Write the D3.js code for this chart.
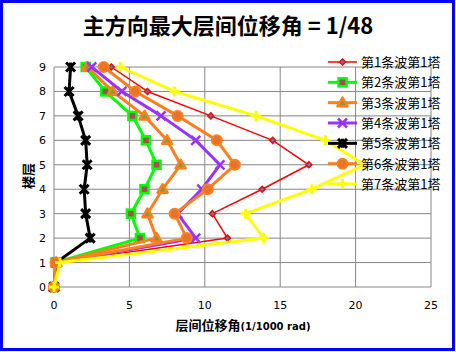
<!DOCTYPE html>
<html>
<head>
<meta charset="utf-8">
<script src="https://cdn.jsdelivr.net/npm/d3@7"></script>
<style>
  body { margin: 0; background: #fff; }
  text { font-family: "DejaVu Sans", Verdana, sans-serif; }
  .cjk { font-family: "Noto Sans CJK SC", sans-serif; }
</style>
</head>
<body>
<div id="chart"></div>
<script>
// Data
const floors = [0, 1, 2, 3, 4, 5, 6, 7, 8, 9];
const seriesNames = ["第1条波第1塔", "第2条波第1塔", "第3条波第1塔", "第4条波第1塔",
                     "第5条波第1塔", "第6条波第1塔", "第7条波第1塔"];
const wave1 = [0, 0.2, 11.5, 10.5, 13.8, 16.9, 14.5, 10.4, 6.2, 3.8];
const wave2 = [0, 0.1, 5.7, 5.1, 6.0, 6.8, 6.1, 5.2, 3.4, 2.1];
const wave3 = [0, 0.15, 6.8, 6.2, 7.2, 8.4, 7.5, 6.0, 3.9, 2.2];
const wave4 = [0, 0.2, 9.4, 8.2, 9.8, 11.0, 9.4, 7.1, 4.5, 2.5];
const wave5 = [0, 0.15, 2.4, 2.1, 2.0, 2.2, 2.1, 1.6, 1.0, 1.1];
const wave6 = [0, 0.1, 8.8, 8.0, 10.2, 12.0, 10.8, 8.2, 5.4, 3.3];
const wave7 = [0, 0.4, 13.9, 12.7, 17.1, 20.6, 18.0, 13.4, 8.0, 4.4];
const xTicks = [0, 5, 10, 15, 20, 25];

const styles = [
  {color: "#ff0000", width: 1.5, marker: "diamond", fill: "#4f81bd", size: 3},
  {color: "#00ff00", width: 3, marker: "square", fill: "#a5504f", size: 4},
  {color: "#ff7f1e", width: 3, marker: "triangle", fill: "#8a9a3a", size: 5},
  {color: "#9933ff", width: 3, marker: "x", fill: "none", size: 4.5},
  {color: "#000000", width: 3, marker: "star", fill: "none", size: 4.5},
  {color: "#ff7f1e", width: 3, marker: "circle", fill: "#e8742a", size: 5},
  {color: "#ffff00", width: 3, marker: "plus", fill: "none", size: 5}
];
const allWaves = [wave1, wave2, wave3, wave4, wave5, wave6, wave7];

const W = 456, H = 352;
const svg = d3.select("#chart").append("svg")
    .attr("width", W).attr("height", H);

// blue outer border
svg.append("rect")
    .attr("x", 1.5).attr("y", 1.5)
    .attr("width", 452).attr("height", 348)
    .attr("fill", "#fff").attr("stroke", "#0000ff").attr("stroke-width", 3);

const x = d3.scaleLinear().domain([0, 25]).range([54, 431]);
const y = d3.scaleLinear().domain([0, 9]).range([287, 67]);

// grid
svg.append("g").selectAll("line").data(floors).join("line")
    .attr("x1", x(0)).attr("x2", x(25))
    .attr("y1", d => y(d)).attr("y2", d => y(d))
    .attr("stroke", "#868686").attr("stroke-width", 1);
svg.append("g").selectAll("line").data(xTicks).join("line")
    .attr("x1", d => x(d)).attr("x2", d => x(d))
    .attr("y1", y(9)).attr("y2", y(0))
    .attr("stroke", "#868686").attr("stroke-width", 1);

// tick labels
svg.append("g").selectAll("text").data(floors).join("text")
    .attr("x", 46).attr("y", d => y(d) + 4)
    .attr("text-anchor", "end").attr("font-size", 11)
    .text(d => d);
svg.append("g").selectAll("text").data(xTicks).join("text")
    .attr("x", d => x(d)).attr("y", 309)
    .attr("text-anchor", "middle").attr("font-size", 11)
    .text(d => d);

// titles
svg.append("text").attr("class", "cjk")
    .attr("x", 228).attr("y", 34)
    .attr("text-anchor", "middle").attr("font-size", 22).attr("font-weight", "bold")
    .text("主方向最大层间位移角 = 1/48");

const xt = svg.append("text").attr("x", 243).attr("y", 330)
    .attr("text-anchor", "middle").attr("font-weight", "bold");
xt.append("tspan").attr("class", "cjk").attr("font-size", 13).text("层间位移角");
xt.append("tspan").attr("font-size", 10).text("(1/1000 rad)");

svg.append("text").attr("class", "cjk")
    .attr("transform", "translate(33,176) rotate(-90)")
    .attr("text-anchor", "middle").attr("font-size", 13).attr("font-weight", "bold")
    .text("楼层");

// markers
function drawMarker(sel, st, cx, cy) {
  const s = st.size;
  if (st.marker === "diamond") {
    sel.append("path")
      .attr("d", `M${cx},${cy - s}L${cx + s},${cy}L${cx},${cy + s}L${cx - s},${cy}Z`)
      .attr("fill", st.fill).attr("stroke", st.color).attr("stroke-width", 1.5);
  } else if (st.marker === "square") {
    sel.append("rect").attr("x", cx - s).attr("y", cy - s)
      .attr("width", 2 * s).attr("height", 2 * s)
      .attr("fill", st.fill).attr("stroke", st.color).attr("stroke-width", 2.5);
  } else if (st.marker === "triangle") {
    sel.append("path")
      .attr("d", `M${cx},${cy - s}L${cx + s},${cy + s * 0.7}L${cx - s},${cy + s * 0.7}Z`)
      .attr("fill", st.fill).attr("stroke", st.color).attr("stroke-width", 2.5)
      .attr("stroke-linejoin", "round");
  } else if (st.marker === "x") {
    sel.append("path")
      .attr("d", `M${cx - s},${cy - s}L${cx + s},${cy + s}M${cx - s},${cy + s}L${cx + s},${cy - s}`)
      .attr("stroke", st.color).attr("stroke-width", 2.5);
  } else if (st.marker === "star") {
    sel.append("path")
      .attr("d", `M${cx - s},${cy - s}L${cx + s},${cy + s}M${cx - s},${cy + s}L${cx + s},${cy - s}M${cx},${cy - s}L${cx},${cy + s}`)
      .attr("stroke", st.color).attr("stroke-width", 3);
  } else if (st.marker === "circle") {
    sel.append("circle").attr("cx", cx).attr("cy", cy).attr("r", s)
      .attr("fill", st.fill).attr("stroke", st.color).attr("stroke-width", 2);
  } else if (st.marker === "plus") {
    sel.append("path")
      .attr("d", `M${cx - s},${cy}L${cx + s},${cy}M${cx},${cy - s}L${cx},${cy + s}`)
      .attr("stroke", st.color).attr("stroke-width", 3);
  }
}

const line = d3.line().x(d => x(d[0])).y(d => y(d[1]));

allWaves.forEach((vals, i) => {
  const st = styles[i];
  const pts = floors.map((f, j) => [vals[j], f]);
  const g = svg.append("g");
  g.append("path").attr("d", line(pts))
    .attr("fill", "none").attr("stroke", st.color)
    .attr("stroke-width", st.width).attr("stroke-linejoin", "round");
  pts.forEach(p => drawMarker(g, st, x(p[0]), y(p[1])));
});

// legend
const legY = d3.scalePoint().domain(seriesNames).range([62, 184]);
seriesNames.forEach((name, i) => {
  const st = styles[i];
  const ly = legY(name);
  const lg = svg.append("g");
  lg.append("line").attr("x1", 328).attr("x2", 357).attr("y1", ly).attr("y2", ly)
    .attr("stroke", st.color).attr("stroke-width", st.width);
  drawMarker(lg, st, 342.5, ly);
  lg.append("text").attr("class", "cjk")
    .attr("x", 361).attr("y", ly + 5)
    .attr("font-size", 13).text(name);
});
</script>
</body>
</html>
